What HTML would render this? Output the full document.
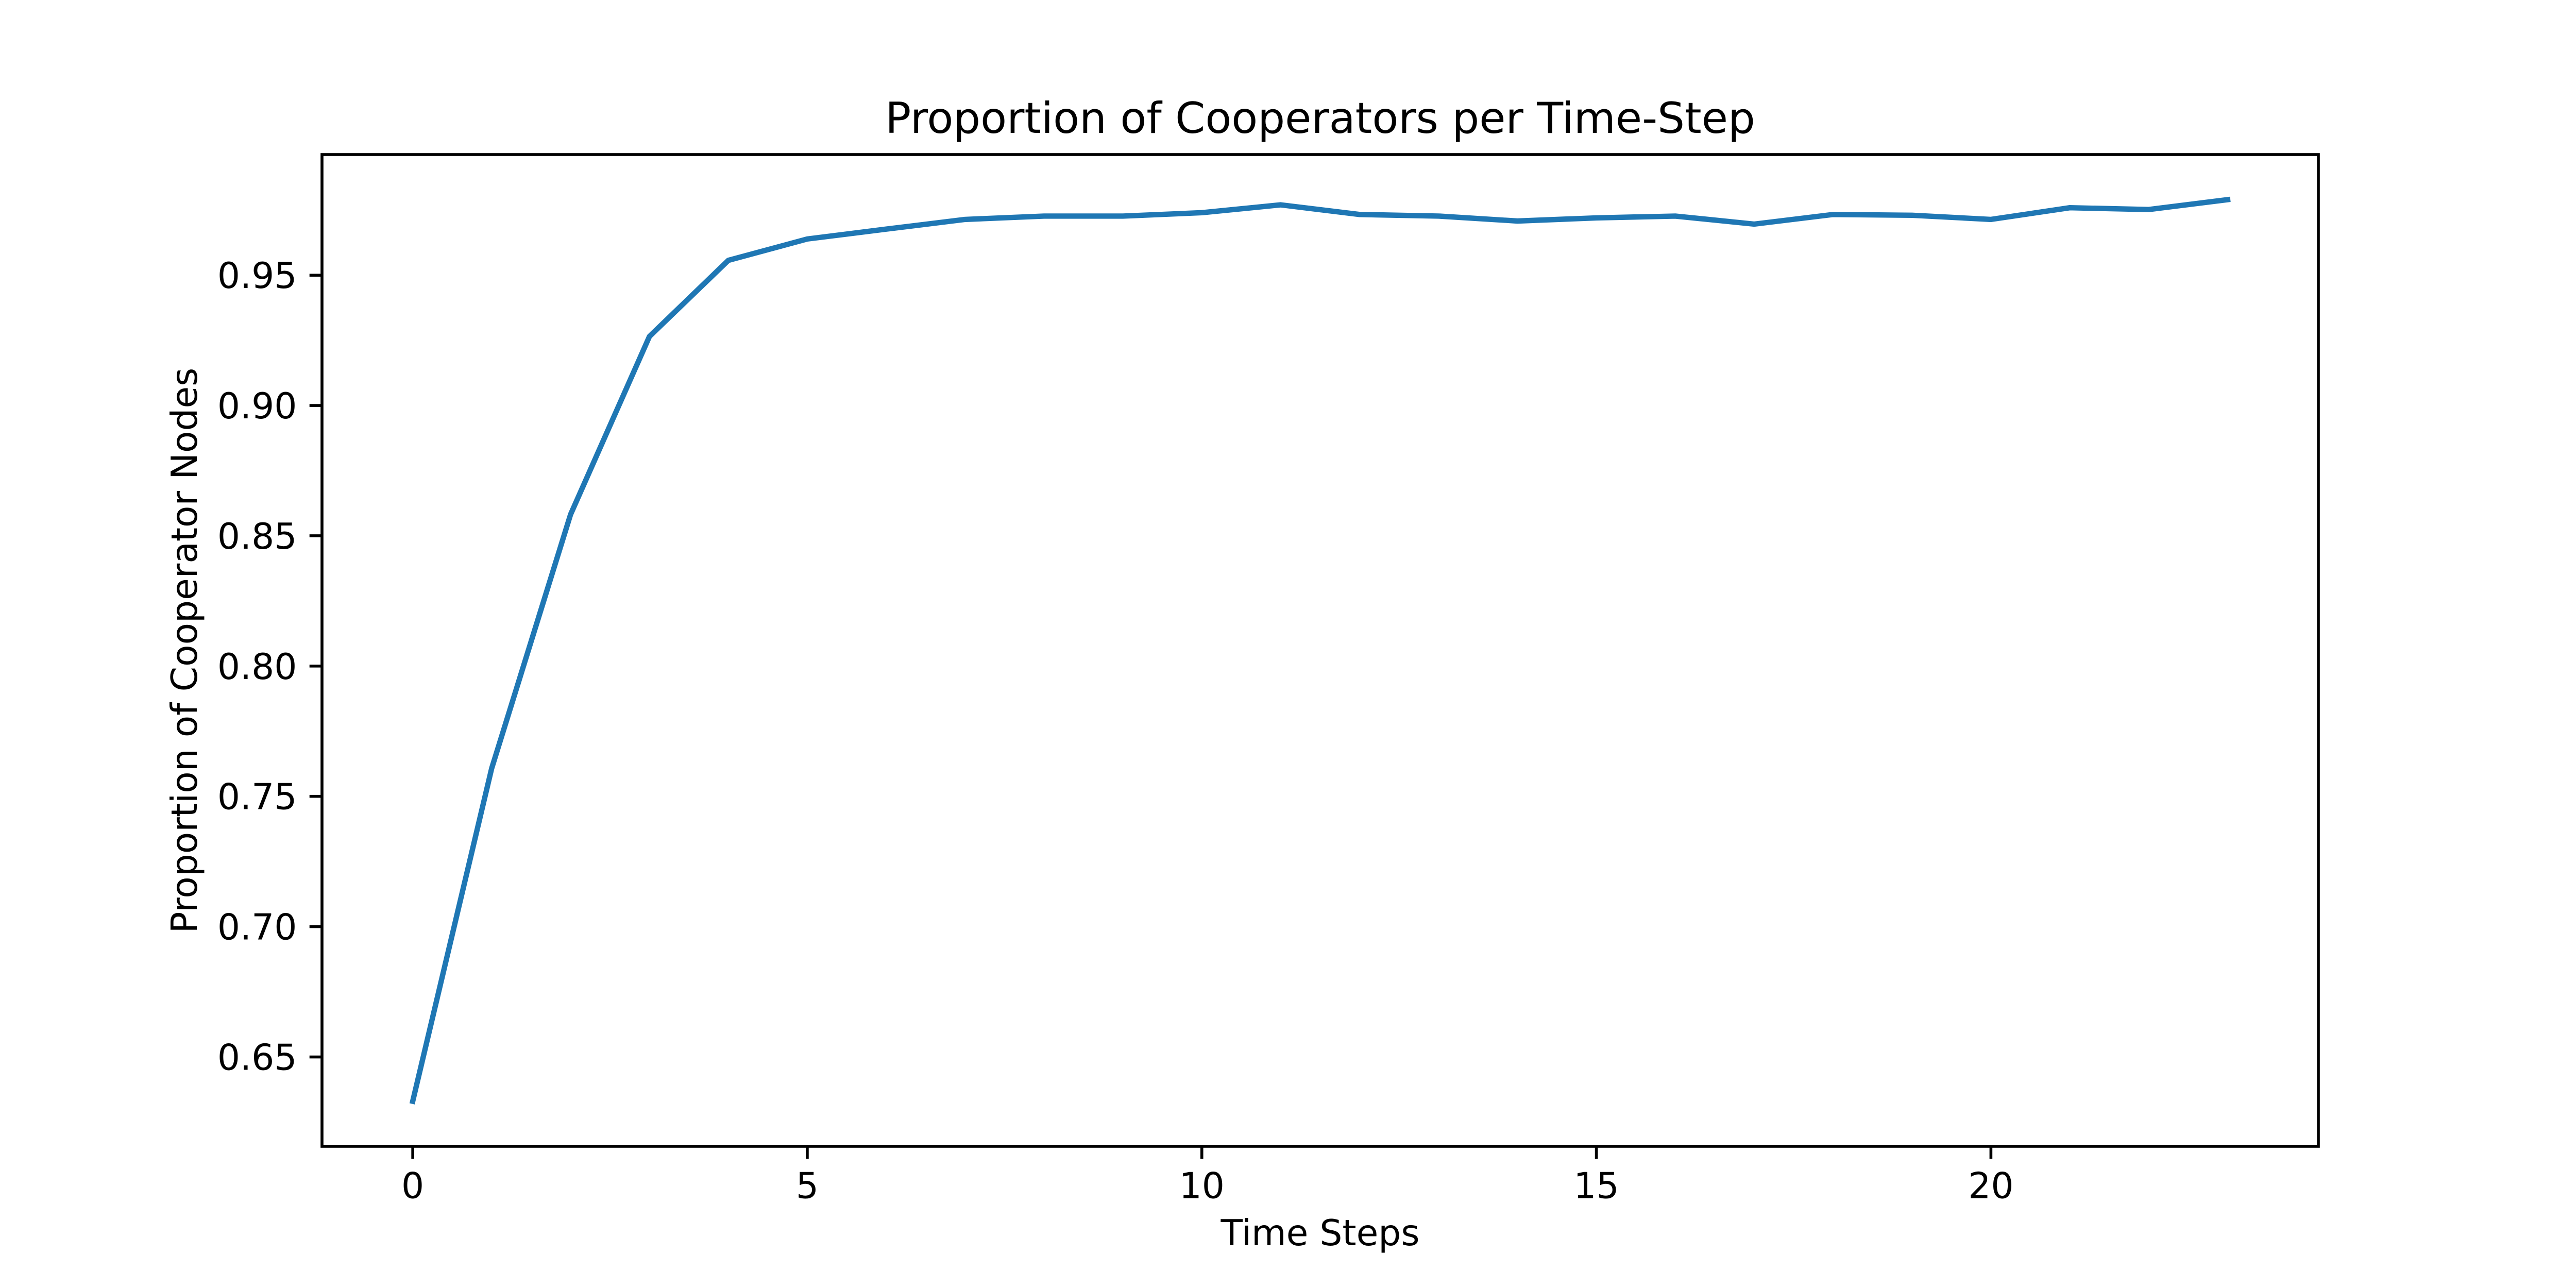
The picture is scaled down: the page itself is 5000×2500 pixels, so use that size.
<!DOCTYPE html>
<html><head><meta charset="utf-8"><style>
html,body{margin:0;padding:0;background:#fff}
svg{display:block}
text{font-family:"DejaVu Sans","Liberation Sans",sans-serif;fill:#000}
</style></head><body>
<svg id="chart" width="5000" height="2500" viewBox="0 0 5000 2500" xmlns="http://www.w3.org/2000/svg">
<rect x="0" y="0" width="5000" height="2500" fill="#fff"/>
<g id="ticks"></g>
<polyline id="series" fill="none" stroke="#1f77b4" stroke-width="10.4" stroke-linejoin="round" stroke-linecap="square"/>
<rect x="625" y="300" width="3875" height="1925" fill="none" stroke="#000" stroke-width="5.6"/>
<text x="2562.5" y="258" font-size="83.3" text-anchor="middle">Proportion of Cooperators per Time-Step</text>
<text x="2562.5" y="2417" font-size="69.4" text-anchor="middle">Time Steps</text>
<text x="0" y="0" font-size="69.4" text-anchor="middle" transform="translate(382,1262.5) rotate(-90)">Proportion of Cooperator Nodes</text>
</svg>
<script>
const steps = [0,1,2,3,4,5,6,7,8,9,10,11,12,13,14,15,16,17,18,19,20,21,22,23];
const proportions = [0.633,0.7607,0.8582,0.9265,0.9557,0.9639,0.9677,0.9714,0.9727,0.9727,0.974,0.977,0.9733,0.9727,0.9708,0.972,0.9727,0.9696,0.9733,0.973,0.9714,0.9759,0.9752,0.979];
const xTicks = [0,5,10,15,20];
const yTicks = [0.65,0.70,0.75,0.80,0.85,0.90,0.95];

const L=625,R=4500,T=300,B=2225;
const xmin0=Math.min(...steps), xmax0=Math.max(...steps);
const ymin0=Math.min(...proportions), ymax0=Math.max(...proportions);
const xm=(xmax0-xmin0)*0.05, ym=(ymax0-ymin0)*0.05;
const xmin=xmin0-xm, xmax=xmax0+xm, ymin=ymin0-ym, ymax=ymax0+ym;
function xs(v){return L+(v-xmin)/(xmax-xmin)*(R-L);}
function ys(v){return B-(v-ymin)/(ymax-ymin)*(B-T);}

const ns="http://www.w3.org/2000/svg";
const line=document.getElementById('series');
line.setAttribute('points', steps.map((s,i)=>xs(s).toFixed(1)+','+ys(proportions[i]).toFixed(1)).join(' '));
const g=document.getElementById('ticks');
xTicks.forEach(t=>{
  const x=xs(t);
  const l=document.createElementNS(ns,'line');
  
  
  l.setAttribute('x1',x);l.setAttribute('x2',x);l.setAttribute('y1',B);l.setAttribute('y2',B+24.3);
  l.setAttribute('stroke','#000');l.setAttribute('stroke-width','5.6');
  g.appendChild(l);
  const tx=document.createElementNS(ns,'text');
  
  
  tx.setAttribute('x',x);tx.setAttribute('y',B+24.3+24.3+52);
  tx.setAttribute('font-size','69.4');tx.setAttribute('text-anchor','middle');
  tx.textContent=String(t);
  g.appendChild(tx);
});
yTicks.forEach(t=>{
  const y=ys(t);
  const l=document.createElementNS(ns,'line');
  
  
  l.setAttribute('x1',L-24.3);l.setAttribute('x2',L);l.setAttribute('y1',y);l.setAttribute('y2',y);
  l.setAttribute('stroke','#000');l.setAttribute('stroke-width','5.6');
  g.appendChild(l);
  const tx=document.createElementNS(ns,'text');
  
  
  tx.setAttribute('x',L-24.3-24.3);tx.setAttribute('y',y+25);
  tx.setAttribute('font-size','69.4');tx.setAttribute('text-anchor','end');
  tx.textContent=t.toFixed(2);
  g.appendChild(tx);
});
</script>
</body></html>
